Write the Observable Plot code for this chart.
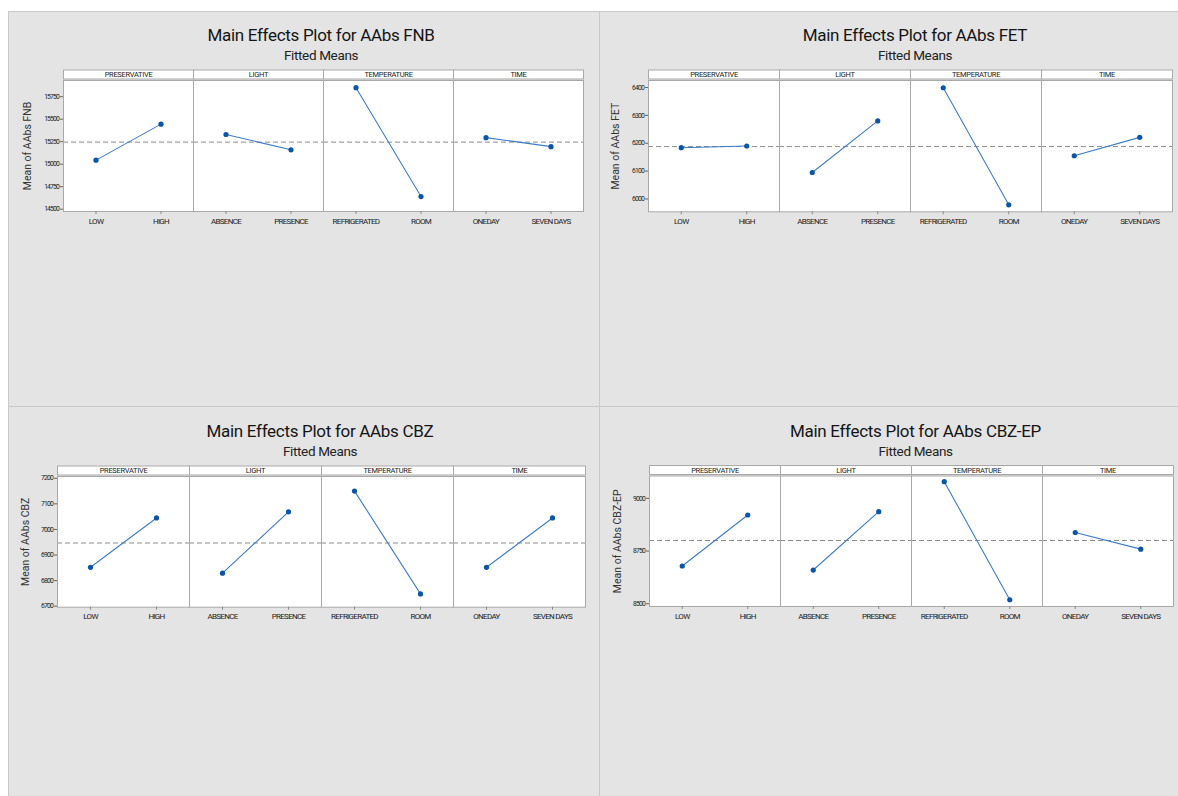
<!DOCTYPE html>
<html>
<head>
<meta charset="utf-8">
<script src="https://cdn.jsdelivr.net/npm/d3@7"></script>
<script src="https://cdn.jsdelivr.net/npm/@observablehq/plot@0.6"></script>
<style>
  html, body { margin: 0; padding: 0; background: #ffffff; }
  body { width: 1178px; height: 796px; position: relative; overflow: hidden;
         font-family: Roboto, "Noto Sans", sans-serif; }
  .panel { position: absolute; background: #e4e4e4; box-shadow: inset 1px 1px 0 #c9c9c9; }
  .title, .subtitle { position: absolute; white-space: nowrap; color: #141414;
                      transform: translate(-50%, -50%); }
  .title { font-size: 17px; letter-spacing: -0.3px; }
  .subtitle { font-size: 13.5px; letter-spacing: -0.35px; color: #222; }
  .panel svg { position: absolute; left: 0; top: 0; overflow: visible; }
</style>
</head>
<body>
<script>
// Factors of the experiment and their two levels, in display order
const factors = ["PRESERVATIVE", "LIGHT", "TEMPERATURE", "TIME"];
const factorLevels = [
  ["LOW", "HIGH"],
  ["ABSENCE", "PRESENCE"],
  ["REFRIGERATED", "ROOM"],
  ["ONEDAY", "SEVEN DAYS"]
];

// Fitted means per factor level (one pair per factor)
const fnbMeans   = [[15045, 15445], [15330, 15160], [15850, 14640], [15295, 15195]];
const fetMeans   = [[6184, 6190],   [6095, 6280],   [6399, 5979],   [6155, 6221]];
const cbzMeans   = [[6852, 7045],   [6829, 7069],   [7150, 6748],   [6852, 7045]];
const cbzepMeans = [[8679, 8921],   [8660, 8937],   [9079, 8519],   [8838, 8759]];

// Overall means (dashed reference lines)
const fnbGrand = 15245;
const fetGrand = 6188;
const cbzGrand = 6947;
const cbzepGrand = 8800;

// Y-axis tick values
const fnbTicks   = [14500, 14750, 15000, 15250, 15500, 15750];
const fetTicks   = [6000, 6100, 6200, 6300, 6400];
const cbzTicks   = [6700, 6800, 6900, 7000, 7100, 7200];
const cbzepTicks = [8500, 8750, 9000];

const panels = [
  { title: "Main Effects Plot for AAbs FNB", ylabel: "Mean of AAbs FNB",
    means: fnbMeans, grand: fnbGrand, ticks: fnbTicks, domain: [14474, 15930],
    box: [8, 11, 590.5, 395], plot: [53, 576, 69, 200], titleX: 313, titleY: 24, subY: 44, ylabOff: 36 },
  { title: "Main Effects Plot for AAbs FET", ylabel: "Mean of AAbs FET",
    means: fetMeans, grand: fetGrand, ticks: fetTicks, domain: [5954, 6425],
    box: [598.5, 11, 579.5, 395], plot: [48.2, 574.5, 69, 200.3], titleX: 316.5, titleY: 24, subY: 44, ylabOff: 32.5 },
  { title: "Main Effects Plot for AAbs CBZ", ylabel: "Mean of AAbs CBZ",
    means: cbzMeans, grand: cbzGrand, ticks: cbzTicks, domain: [6696, 7207],
    box: [8, 406, 590.5, 390], plot: [48.6, 576.8, 70, 200.7], titleX: 312, titleY: 24.7, subY: 44.7, ylabOff: 31.7 },
  { title: "Main Effects Plot for AAbs CBZ-EP", ylabel: "Mean of AAbs CBZ-EP",
    means: cbzepMeans, grand: cbzepGrand, ticks: cbzepTicks, domain: [8487, 9106],
    box: [598.5, 406, 579.5, 390], plot: [48.4, 576.2, 69.5, 200], titleX: 317, titleY: 24.7, subY: 44.7, ylabOff: 32 }
];

const SVG_H = 232;
const frameColor = "#a9a9a9";

for (const p of panels) {
  const [left, top, width, height] = p.box;
  const [pl, pr, pt, pb] = p.plot;
  const H = pb - pt;

  const div = document.createElement("div");
  div.className = "panel";
  Object.assign(div.style, { left: left + "px", top: top + "px", width: width + "px", height: height + "px" });
  document.body.appendChild(div);

  const t = document.createElement("div");
  t.className = "title";
  t.textContent = p.title;
  Object.assign(t.style, { left: p.titleX + "px", top: p.titleY + "px" });
  div.appendChild(t);

  const s = document.createElement("div");
  s.className = "subtitle";
  s.textContent = "Fitted Means";
  Object.assign(s.style, { left: p.titleX + "px", top: p.subY + "px" });
  div.appendChild(s);

  const rows = factors.flatMap((f, i) =>
    factorLevels[i].map((level, j) => ({ factor: f, level, order: j, mean: p.means[i][j] }))
  );

  const svg = Plot.plot({
    width, height: SVG_H,
    marginLeft: pl, marginRight: width - pr, marginTop: pt, marginBottom: SVG_H - pb,
    style: { background: "transparent", fontFamily: "Roboto, 'Noto Sans', sans-serif", color: "#222", overflow: "visible" },
    fx: { domain: factors, padding: 0, axis: null },
    x: { domain: [-0.5, 1.5], axis: null },
    y: { domain: p.domain, axis: null },
    marks: [
      Plot.frame({ fill: "white", stroke: "none" }),
      // factor header strip above each facet
      Plot.frame({ insetTop: -10.5, insetBottom: H + 1.5, fill: "white", stroke: frameColor }),
      Plot.ruleY([p.grand], { stroke: "#8c8c8c", strokeDasharray: "5,3", strokeWidth: 1 }),
      Plot.line(rows, { fx: "factor", x: "order", y: "mean", stroke: "#3d7ccb", strokeWidth: 1.1 }),
      Plot.dot(rows, { fx: "factor", x: "order", y: "mean", r: 2.6, fill: "#0b55a7" }),
      Plot.frame({ stroke: frameColor }),
      Plot.tickX(rows, { fx: "factor", x: "order", insetTop: H, insetBottom: -3, stroke: "#8a8a8a" }),
      Plot.text(rows, { fx: "factor", x: "order", text: "level", frameAnchor: "bottom", lineAnchor: "middle",
                        dy: 9.7, fontSize: 8, fill: "#222", ariaDescription: "levels" }),
      Plot.text(factors, { fx: d => d, text: d => d, frameAnchor: "top", lineAnchor: "middle",
                           dy: -5.5, fontSize: 7.5, fill: "#222", ariaDescription: "strips" }),
      Plot.axisY({ ticks: p.ticks, tickSize: 3, tickPadding: 1.5, fontSize: 6.8,
                   tickFormat: d3.format("d"), label: null, stroke: "#666" }),
      Plot.text([p.ylabel], { fx: () => factors[0], text: d => d, frameAnchor: "left", rotate: -90,
                              textAnchor: "middle", lineAnchor: "middle",
                              dx: -p.ylabOff, fontSize: 10.5, fill: "#333", ariaDescription: "ylabel" })
    ]
  });

  const sel = d3.select(svg);
  sel.selectAll('g[aria-label="y-axis tick label"] text').attr("letter-spacing", "-0.85");
  sel.selectAll('g[aria-description="levels"] text').attr("letter-spacing", "-0.7");
  sel.selectAll('g[aria-description="strips"] text').attr("letter-spacing", "-0.3");
  div.appendChild(svg);
}
</script>
</body>
</html>
